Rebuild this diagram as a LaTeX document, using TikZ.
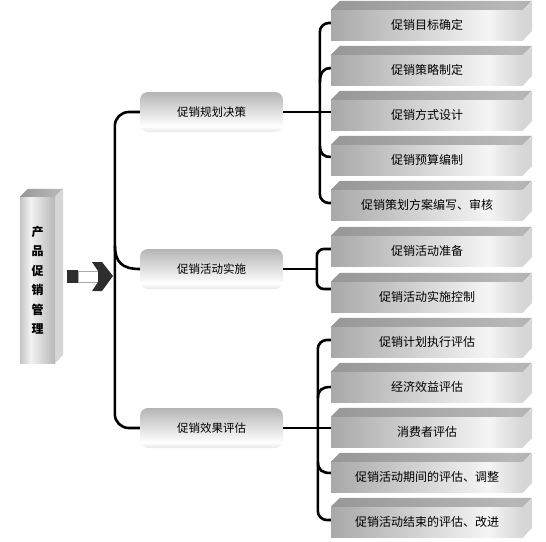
\documentclass[tikz,border=0pt]{standalone}
\usepackage{fontspec}
\setmainfont{Noto Sans CJK SC}
\pgfdeclarehorizontalshading{frontshade}{100bp}{color(0bp)=(black!52); color(66bp)=(black!4); color(100bp)=(black!50)}
\pgfdeclarehorizontalshading{topshade}{100bp}{color(0bp)=(black!48); color(70bp)=(black!28); color(100bp)=(black!42)}
\pgfdeclareverticalshading{planshade}{100bp}{color(0bp)=(black!42); color(32bp)=(white); color(100bp)=(black!46)}
\pgfdeclarehorizontalshading{postshade}{100bp}{color(0bp)=(black!52); color(40bp)=(black!5); color(100bp)=(black!45)}
\begin{document}
\begin{tikzpicture}[x=1pt,y=-1pt,
    link/.style={line width=2.6pt},
    plan/.style={shade, shading=planshade, rounded corners=8pt, minimum width=143pt,
      minimum height=40pt, inner sep=0pt, font=\fontsize{11.5}{12}\selectfont},
    item/.style={shade, shading=frontshade, minimum width=192pt, minimum height=30pt,
      inner sep=0pt, font=\fontsize{12}{12}\selectfont},
    topface/.style={shade, shading=topshade},
    sideface/.style={fill=black!16}]
    \useasboundingbox (0,0) rectangle (546,541);
    % left column
    \node[shade, shading=postshade, minimum width=35pt, minimum height=166pt, inner sep=0pt,
      align=center, font=\bfseries\fontsize{12}{19.5}\selectfont] (mgr) at (37.5,280)
      {产\\品\\促\\销\\管\\理};
    \shade[topface] (mgr.north west) -- ++(8,-8) -- ++(35,0) -- (mgr.north east) -- cycle;
    \fill[sideface] (mgr.north east) -- ++(8,-8) -- ++(0,166) -- (mgr.south east) -- cycle;
    % arrow
    \fill[black!82] (67,270) rectangle (78,283);
    \filldraw[fill=white, draw=black!35, line width=0.8pt] (78,271) rectangle (98,282);
    \fill[black!82] (92,262) -- (102,262) -- (113,276) -- (102,291) -- (92,291) -- (98,282) -- (98,271) -- cycle;
    % plans
    \node[plan] (p1) at (211.5,112) {促销规划决策};
    \node[plan] (p2) at (211.5,269) {促销活动实施};
    \node[plan] (p3) at (211.5,428) {促销效果评估};
    % items
    \foreach \i/\ypos/\txt in {1/25/促销目标确定, 2/70/促销策略制定, 3/115/促销方式设计,
        4/160/促销预算编制, 5/205/促销策划方案编写、审核, 6/251/促销活动准备,
        7/297/促销活动实施控制, 8/342/促销计划执行评估, 9/387/经济效益评估,
        10/432/消费者评估, 11/477/促销活动期间的评估、调整, 12/522/促销活动结束的评估、改进}
      \node[item] (c\i) at (427,\ypos) {\txt};
    \foreach \i in {1,...,12} {
      \shade[topface] (c\i.north west) -- ++(9,-9) -- ++(192,0) -- (c\i.north east) -- cycle;
      \fill[sideface] (c\i.north east) -- ++(9,-9) -- ++(0,30) -- (c\i.south east) -- cycle;
    }
    % trunk
    \coordinate (fork) at (115,246);
    \draw[link, rounded corners=14pt] (p1.west) -- ++(-25,0) |- (p3.west);
    \draw[link] (fork) .. controls (115,262) and (122,269) .. (p2.west);
    % group 1
    \coordinate (j2) at (320,82);
    \coordinate (j4) at (320,146);
    \draw[link] (p1.east) -- (p1.east -| c3.west);
    \draw[link, rounded corners=9pt] ([yshift=2pt]c1.west) -- ++(-11,0) |- ([yshift=2pt]c5.west);
    \draw[link] (j2) .. controls (320,72) and (324,68) .. ([yshift=2pt]c2.west);
    \draw[link] (j4) .. controls (320,154) and (324,157) .. ([yshift=3pt]c4.west);
    % group 2
    \coordinate (g2) at (317,269);
    \draw[link] (p2.east) -- (g2);
    \draw[link, rounded corners=7pt] ([yshift=2pt]c6.west) -- ++(-14,0) |- ([yshift=8pt]c7.west);
    % group 3
    \coordinate (j9) at (318,398);
    \coordinate (j11) at (318,462);
    \draw[link] (p3.east) -- (p3.east -| c10.west);
    \draw[link, rounded corners=9pt] ([yshift=2pt]c8.west) -- ++(-13,0) |- ([yshift=2pt]c12.west);
    \draw[link] (j9) .. controls (318,390) and (322,387) .. (c9.west);
    \draw[link] (j11) .. controls (318,470) and (322,473) .. ([yshift=4pt]c11.west);
\end{tikzpicture}
\end{document}
